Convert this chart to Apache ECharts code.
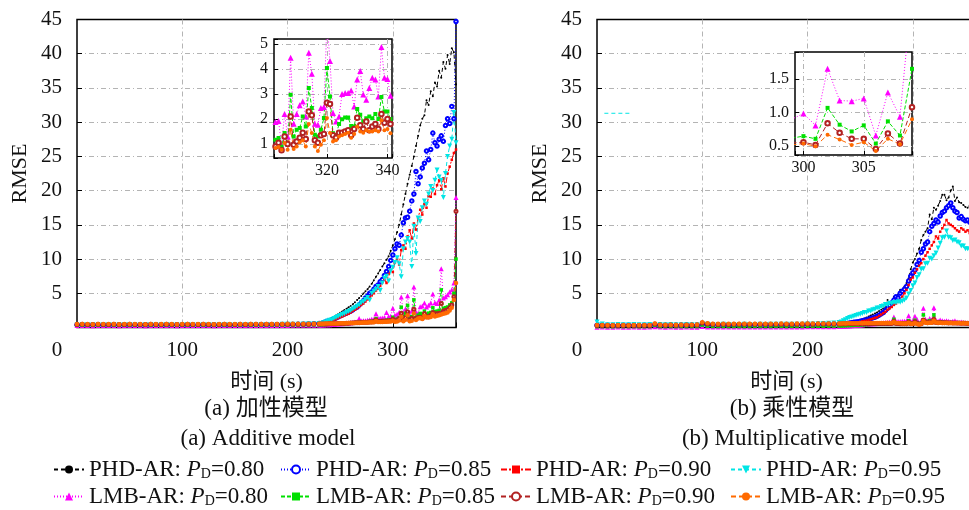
<!DOCTYPE html>
<html><head><meta charset="utf-8">
<script src="https://cdn.jsdelivr.net/npm/echarts@6/dist/echarts.min.js"></script>
<style>html,body{margin:0;padding:0;background:#fff}#c{width:969px;height:510px}</style>
</head><body><div id="c"></div>
<script>
// ---------- time axis (s) ----------
const T = [0,5,10,15,20,25,30,35,40,45,50,55,60,65,70,75,80,85,90,95,100,105,110,115,120,125,130,135,140,145,150,155,160,165,170,175,180,185,190,195,200,205,210,215,220,225,230,
232,234,236,238,240,242,244,246,248,250,252,254,256,258,260,262,264,266,268,270,272,274,276,278,280,282,284,286,288,290,292,294,296,298,300,302,304,306,308,310,312,314,316,318,320,322,324,326,328,330,332,334,336,338,340,342,344,346,348,350,352,354,356,358,360];

// ---------- (a) additive model ----------
const aPHD80 = [0.35,0.36,0.35,0.34,0.36,0.35,0.35,0.36,0.34,0.35, 0.36,0.35,0.35,0.34,0.36,0.35,0.35,0.36,0.35,0.34, 0.35,0.36,0.35,0.35,0.36,0.35,0.34,0.35,0.36,0.35, 0.35,0.36,0.35,0.36,0.37,0.37,0.38,0.38,0.39,0.40, 0.42,0.45,0.48,0.52,0.56,0.60,0.66,
0.7,0.8,0.9,1.05,1.2,1.35,1.55,1.75,1.95,2.15, 2.35,2.55,2.75,2.95,3.15,3.4,3.7,4.0,4.3,4.6, 4.95,5.3,5.6,6.0,6.4,6.9,7.4,7.9,8.4,8.9, 9.4,9.9,10.4,11.2,12.0,12.9,13.9,15.0,16.5,18.0, 19.5,21.0,22.3,23.6,25.0,26.5,28.0,29.5,30.5,31.0, 33.2,32.5,34.5,33.8,35.8,35.2,37.5,36.5,38.8,37.8, 39.8,38.5,40.8,40.2,35.5];
const aPHD85 = [0.38,0.37,0.38,0.39,0.37,0.38,0.38,0.37,0.39,0.38, 0.37,0.38,0.38,0.39,0.37,0.38,0.38,0.37,0.38,0.39, 0.38,0.37,0.38,0.38,0.39,0.37,0.38,0.38,0.37,0.38, 0.38,0.37,0.38,0.39,0.38,0.39,0.40,0.40,0.41,0.42, 0.43,0.45,0.47,0.49,0.52,0.55,0.58,
0.6,0.7,0.8,0.9,1.0,1.1,1.25,1.4,1.55,1.7, 1.85,2.0,2.1,2.25,2.4,2.6,2.8,3.0,3.3,3.6, 3.9,4.3,4.6,5.0,5.2,5.6,6.0,6.2,6.7,7.0, 7.6,8.2,8.9,9.8,10.6,11.5,12.2,12.0,13.5,15.3, 16.0,16.1,17.0,18.5,19.5,22.8,21.0,22.0,23.3,24.0, 25.8,24.5,26.0,28.4,27.0,26.5,27.5,28.0,27.2,29.5, 30.5,29.8,32.3,30.5,44.7];
const aPHD90 = [0.40,0.41,0.40,0.39,0.41,0.40,0.40,0.41,0.39,0.40, 0.41,0.40,0.40,0.39,0.41,0.40,0.40,0.41,0.40,0.39, 0.40,0.41,0.40,0.40,0.41,0.40,0.39,0.40,0.41,0.40, 0.40,0.41,0.40,0.41,0.41,0.42,0.42,0.43,0.43,0.44, 0.45,0.46,0.47,0.48,0.50,0.52,0.54,
0.55,0.6,0.7,0.8,0.9,1.0,1.1,1.2,1.35,1.5, 1.6,1.75,1.9,2.0,2.2,2.4,2.6,2.8,3.0,3.3, 3.5,3.8,4.1,4.4,4.7,5.0,5.4,5.7,6.1,6.6, 7.0,6.5,7.8,8.4,8.1,9.5,10.0,9.2,11.3,12.0, 11.5,13.3,14.2,13.0,15.2,14.3,16.0,17.2,16.5,18.0, 17.5,19.2,19.1,20.3,19.5,20.8,21.5,20.2,21.8,20.6, 22.5,23.5,24.5,25.5,26.0];
const aPHD95 = [0.42,0.43,0.42,0.41,0.43,0.42,0.42,0.43,0.41,0.42, 0.43,0.42,0.42,0.41,0.43,0.42,0.42,0.43,0.42,0.41, 0.42,0.43,0.42,0.42,0.43,0.42,0.41,0.42,0.43,0.42, 0.42,0.43,0.42,0.43,0.43,0.44,0.44,0.45,0.45,0.46, 0.47,0.48,0.49,0.51,0.53,0.55,0.58,
0.6,0.7,0.8,0.95,1.05,1.15,1.3,1.45,1.6,1.75, 1.9,2.0,2.2,2.35,2.5,2.7,2.9,3.1,3.3,3.6, 3.8,4.1,4.4,4.0,5.0,5.3,5.6,6.0,5.4,6.5, 7.2,7.5,6.8,8.3,8.8,9.5,10.2,9.3,7.4,11.5, 12.5,13.0,12.5,8.9,14.8,10.8,16.0,15.5,17.5,18.5, 18.0,19.5,20.6,20.0,21.5,23.0,22.0,21.5,19.0,22.5, 25.0,26.5,27.5,31.4,27.0];
const aLMB80 = [0.28,0.29,0.28,0.27,0.29,0.28,0.28,0.29,0.27,0.28, 0.29,0.28,0.28,0.27,0.29,0.28,0.28,0.29,0.28,0.27, 0.28,0.29,0.28,0.28,0.29,0.28,0.27,0.28,0.29,0.28, 0.28,0.29,0.28,0.29,0.29,0.30,0.30,0.30,0.31,0.31, 0.31,0.32,0.32,0.33,0.33,0.34,0.34,
0.35,0.35,0.4,0.4,0.4,0.45,0.45,0.5,0.5,0.55, 0.55,0.6,0.6,0.65,0.7,0.75,0.8,0.85,1.3,0.95, 1.0,1.0,1.05,1.1,1.2,1.2,2.0,1.3,1.35,1.4, 1.45,2.2,1.6,1.65,2.8,1.8, 1.92,2.2,4.45,2.2,2.7,4.65,1.81,2.44,5.9,2.24, 2.1,3.04,3.14,3.58,2.98,3.24,3.58,4.88,3.6,3.5, 4.0,8.6,4.3,4.5,4.8,5.2,5.5,6.5,19.0];
const aLMB85 = [0.33,0.34,0.33,0.32,0.34,0.33,0.33,0.34,0.32,0.33, 0.34,0.33,0.33,0.32,0.34,0.33,0.33,0.34,0.33,0.32, 0.33,0.34,0.33,0.33,0.34,0.33,0.32,0.33,0.34,0.33, 0.33,0.34,0.33,0.34,0.34,0.35,0.35,0.35,0.36,0.36, 0.36,0.37,0.37,0.38,0.38,0.39,0.39,
0.4,0.43,0.42,0.47,0.46,0.5,0.53,0.52,0.57,0.56, 0.61,0.6,0.66,0.64,0.69,0.7,0.71,0.75,0.74,0.79, 0.8,0.83,0.84,0.89,0.88,0.93,1.3,0.94,0.99,1.01, 1.0,1.06,1.07,1.12,1.5,1.15, 1.24,1.44,2.97,1.57,2.1,3.24,1.37,1.57,4.04,1.43, 1.8,2.06,1.72,2.4,1.9,2.1,2.2,2.88,2.3,2.4, 2.5,5.5,2.8,2.9,3.0,3.3,3.6,5.0,10.0];
const aLMB90 = [0.45,0.46,0.45,0.44,0.46,0.45,0.45,0.46,0.44,0.45, 0.46,0.45,0.45,0.44,0.46,0.45,0.45,0.46,0.45,0.44, 0.45,0.46,0.45,0.45,0.46,0.45,0.44,0.45,0.46,0.45, 0.45,0.46,0.45,0.46,0.46,0.46,0.47,0.47,0.47,0.47, 0.48,0.48,0.48,0.49,0.49,0.5,0.5,
0.5,0.5,0.51,0.52,0.53,0.54,0.55,0.56,0.57,0.58, 0.6,0.6,0.62,0.63,0.65,0.66,0.68,0.7,0.71,0.73, 0.75,0.76,0.78,0.8,0.82,0.83,1.1,0.86,0.88,0.9, 0.92,0.94,0.96,0.98,1.2,0.95, 1.05,1.3,2.1,1.1,1.45,2.3,1.15,1.35,2.65,1.35, 1.45,1.5,1.35,2.05,1.6,1.55,1.8,2.2,2.0,2.0, 2.1,3.5,2.4,2.5,2.6,2.9,3.3,4.5,17.0];
const aLMB95 = [0.5,0.51,0.5,0.49,0.51,0.5,0.5,0.51,0.49,0.5, 0.51,0.5,0.5,0.49,0.51,0.5,0.5,0.51,0.5,0.49, 0.5,0.51,0.5,0.5,0.51,0.5,0.49,0.5,0.51,0.5, 0.5,0.51,0.5,0.51,0.51,0.51,0.52,0.52,0.52,0.52, 0.53,0.53,0.53,0.54,0.54,0.55,0.55,
0.56,0.56,0.57,0.57,0.58,0.58,0.59,0.6,0.6,0.61, 0.62,0.62,0.63,0.64,0.65,0.66,0.67,0.68,0.69,0.7, 0.72,0.73,0.74,0.75,0.76,0.78,0.95,0.8,0.81,0.82, 0.84,0.85,0.86,0.88,1.0,0.85, 0.88,1.04,1.57,0.9,1.15,1.8,0.9,0.97,2.04,1.1, 1.3,1.4,1.25,1.7,1.45,1.5,1.55,1.95,1.6,1.7, 1.8,1.9,2.0,2.1,2.2,2.5,2.9,4.0,6.5];

// ---------- (b) multiplicative model ----------
const bPHD80 = [0.3,0.31,0.3,0.29,0.31,0.3,0.3,0.31,0.29,0.3, 0.31,0.35,0.31,0.3,0.31,0.3,0.3,0.31,0.3,0.3, 0.45,0.38,0.35,0.35,0.36,0.35,0.34,0.35,0.36,0.35, 0.35,0.36,0.35,0.36,0.36,0.37,0.37,0.38,0.38,0.39, 0.4,0.41,0.43,0.45,0.48,0.51,0.55,
0.6,0.65,0.7,0.75,0.8,0.85,0.9,0.95,1.0,1.1, 1.2,1.3,1.45,1.6,1.75,1.9,2.05,2.2,2.4,2.6, 2.8,3.0,4.0,3.5,3.8,4.5,4.3,4.8,5.5,5.2, 6.0,6.5,7.2,8.5, 9.5,10.0,10.8,11.5,12.8, 13.5,14.0,14.5,16.5,15.8,17.5,17.2,17.8,18.5,19.4, 19.4,18.6,19.0,20.0,20.6,18.5,19.0,18.3,18.2,17.9, 17.6,17.5,17.8,17.4,17.6,17.3];
const bPHD85 = [0.32,0.33,0.32,0.31,0.33,0.32,0.32,0.33,0.31,0.32, 0.33,0.36,0.33,0.32,0.33,0.32,0.32,0.33,0.32,0.32, 0.46,0.4,0.37,0.37,0.38,0.37,0.36,0.37,0.38,0.37, 0.37,0.38,0.37,0.38,0.38,0.39,0.39,0.4,0.4,0.41, 0.42,0.43,0.44,0.45,0.46,0.47,0.48,
0.5,0.52,0.55,0.6,0.65,0.7,0.75,0.8,0.85,0.9, 1.0,1.05,1.1,1.2,1.3,1.4,1.5,1.65,1.8,2.0, 2.2,2.5,2.8,3.2,3.6,4.0,4.5,4.3,5.0,5.3, 5.6,6.0,6.8,7.5, 8.0,8.4,9.2,9.8,11.0, 11.5,12.2,12.5,14.0,14.8,15.2,15.7,15.4,16.3,16.8, 17.0,17.5,17.8,18.2,17.5,17.0,16.8,16.0,16.2,15.8, 15.6,15.7,15.4,15.6,15.3,15.5];
const bPHD90 = [0.33,0.34,0.33,0.32,0.34,0.33,0.33,0.34,0.32,0.33, 0.34,0.38,0.34,0.33,0.34,0.33,0.33,0.34,0.33,0.33, 0.48,0.41,0.38,0.38,0.39,0.38,0.37,0.38,0.39,0.38, 0.38,0.39,0.38,0.39,0.39,0.4,0.4,0.41,0.41,0.42, 0.42,0.43,0.43,0.44,0.44,0.45,0.45,
0.45,0.48,0.5,0.52,0.55,0.6,0.65,0.7,0.75,0.8, 0.9,0.95,1.0,1.1,1.2,1.3,1.4,1.5,1.7,1.9, 2.1,2.3,2.6,2.8,3.0,3.3,3.5,3.8,4.0,4.5, 5.0,5.5,6.2,7.0, 7.3,8.0,8.5,9.0,9.4, 10.0,10.5,11.0,11.5,12.0,12.5,13.3,13.0,14.0,14.5, 15.0,15.7,15.2,15.0,14.8,14.5,14.2,14.0,14.5,14.3, 14.0,14.2,13.8,14.0,13.6,13.5];
const bPHD95 = [0.8,0.5,0.42,0.41,0.43,0.42,0.42,0.43,0.41,0.42, 0.43,0.45,0.43,0.42,0.43,0.42,0.42,0.43,0.42,0.42, 0.55,0.48,0.45,0.45,0.46,0.45,0.44,0.45,0.46,0.45, 0.45,0.46,0.45,0.46,0.46,0.47,0.47,0.48,0.48,0.49, 0.5,0.52,0.55,0.58,0.62,0.66,0.72,
0.8,1.0,1.15,1.3,1.45,1.55,1.65,1.75,1.85,1.95, 2.05,2.2,2.2,2.4,2.4,2.6,2.65,2.85,2.85,3.05, 3.15,3.35,3.3,3.55,3.5,3.65,3.6,3.75,3.7,3.85, 4.0,4.3,4.9,5.4, 6.1,6.5,7.3,7.7,8.5, 8.6,9.3,9.4,10.1,10.0,10.5,10.9,11.6,12.3,13.1, 13.2,14.1,13.2,13.1,12.7,12.8,12.5,12.4,11.9,11.9, 11.5,11.5,11.4,11.4,11.1,11.3];
const bLMB80 = [0.05,0.06,0.05,0.04,0.06,0.05,0.05,0.06,0.04,0.05, 0.06,0.1,0.06,0.05,0.06,0.05,0.05,0.06,0.05,0.05, 0.15,0.08,0.06,0.06,0.07,0.06,0.06,0.07,0.07,0.06, 0.07,0.07,0.08,0.07,0.08,0.08,0.08,0.09,0.09,0.09, 0.1,0.1,0.11,0.11,0.12,0.12,0.13,
0.14,0.17,0.18,0.22,0.23,0.27,0.28,0.32,0.33,0.37, 0.38,0.43,0.44,0.49,0.5,0.55,0.56,0.61,0.62,0.67, 0.69,0.73,0.74,0.79,0.8,1.55,0.83,0.87,0.88,0.91, 0.92,0.95,1.7,0.9, 0.98,1.65,1.17,0.66,0.94, 2.8,1.2,1.0,1.3,1.1,2.9,1.0,0.9,1.1,1.0, 0.9,1.0,0.9,0.8,0.9,1.0,0.8,0.7,0.8,0.7, 0.7,0.6,0.7,0.6,0.6,0.6];
const bLMB85 = [0.12,0.13,0.12,0.11,0.13,0.12,0.12,0.13,0.11,0.12, 0.13,0.3,0.14,0.13,0.14,0.13,0.14,0.13,0.14,0.14, 0.35,0.2,0.15,0.14,0.15,0.14,0.15,0.15,0.14,0.15, 0.15,0.16,0.15,0.15,0.16,0.16,0.15,0.16,0.17,0.16, 0.17,0.17,0.18,0.18,0.19,0.2,0.21,
0.22,0.24,0.25,0.27,0.28,0.3,0.31,0.34,0.34,0.37, 0.38,0.41,0.41,0.44,0.45,0.47,0.48,0.51,0.51,0.54, 0.54,0.56,0.57,0.59,0.6,1.2,0.61,0.62,0.62,0.63, 0.63,0.64,1.0,0.64, 0.65,1.07,0.72,0.54,0.66, 1.85,0.9,0.8,1.0,0.8,1.85,0.8,0.7,0.8,0.75, 0.7,0.72,0.68,0.7,0.66,0.68,0.65,0.66,0.63,0.64, 0.62,0.63,0.6,0.61,0.6,0.6];
const bLMB90 = [0.3,0.31,0.3,0.29,0.31,0.3,0.3,0.31,0.29,0.3, 0.31,0.5,0.35,0.34,0.35,0.34,0.36,0.35,0.36,0.37, 0.65,0.52,0.47,0.45,0.46,0.45,0.46,0.47,0.46,0.47, 0.46,0.48,0.47,0.46,0.48,0.48,0.47,0.48,0.49,0.49, 0.5,0.49,0.5,0.5,0.51,0.51,0.52,
0.52,0.53,0.52,0.54,0.53,0.54,0.55,0.54,0.55,0.56, 0.55,0.56,0.57,0.56,0.57,0.58,0.57,0.58,0.59,0.58, 0.59,0.58,0.6,0.59,0.58,0.9,0.58,0.57,0.56,0.56, 0.55,0.56,0.75,0.55, 0.56,0.84,0.61,0.46,0.54, 1.1,0.8,0.7,0.75,0.72,1.2,0.74,0.7,0.72,0.68, 0.68,0.7,0.66,0.68,0.65,0.67,0.64,0.66,0.63,0.64, 0.62,0.63,0.61,0.62,0.6,0.61];
const bLMB95 = [0.36,0.35,0.36,0.34,0.36,0.35,0.34,0.36,0.35,0.37, 0.36,0.6,0.42,0.4,0.41,0.4,0.42,0.41,0.42,0.43, 0.75,0.62,0.56,0.54,0.55,0.53,0.54,0.56,0.54,0.55, 0.54,0.56,0.55,0.54,0.56,0.57,0.55,0.56,0.58,0.57, 0.58,0.57,0.59,0.58,0.6,0.59,0.6,
0.6,0.61,0.6,0.62,0.61,0.62,0.63,0.62,0.63,0.64, 0.63,0.64,0.65,0.64,0.65,0.66,0.65,0.66,0.67,0.66, 0.67,0.66,0.68,0.67,0.66,0.8,0.65,0.64,0.62,0.6, 0.58,0.57,0.7,0.56, 0.54,0.67,0.52,0.43,0.53, 0.95,0.7,0.65,0.68,0.7,1.0,0.72,0.68,0.7,0.66, 0.65,0.68,0.64,0.66,0.63,0.65,0.62,0.64,0.6,0.62, 0.6,0.61,0.59,0.6,0.58,0.6];
// stray cyan dash visible in panel (b)
const bStrayT = [7, 32];
const bStrayV = [31.3, 31.3];

// ---------- inset (a): t = 302..341 ----------
const insA_T = [302,303,304,305,306,307,308,309,310,311,312,313,314,315,316,317,318,319,320,321,322,323,324,325,326,327,328,329,330,331,332,333,334,335,336,337,338,339,340,341];
const insA_LMB80 = [1.8,1.88,1.92,0.95,2.2,1.3,4.45,1.81,2.2,2.55, 2.7,2.1,4.65,3.81,1.81,1.77,2.44,2.48,5.9,4.32, 2.24,1.9,2.1,3.0,3.04,3.04,3.14,2.5,3.58,3.92, 2.98,2.77,3.24,3.65,3.58,2.9,4.88,3.65,3.6,2.93];
const insA_LMB85 = [1.15,1.17,1.24,0.9,1.44,0.97,2.97,1.3,1.57,1.64, 2.1,1.7,3.24,2.44,1.37,1.3,1.57,2.04,4.04,2.9, 1.43,1.35,1.8,1.99,2.06,2.06,1.72,1.7,2.4,2.17, 1.9,2.03,2.1,2.03,2.2,2.0,2.88,2.3,2.3,2.0];
const insA_LMB90 = [0.95,0.9,1.05,0.75,1.3,1.0,2.1,0.97,1.1,1.25, 1.45,1.2,2.3,2.15,1.15,1.05,1.35,1.4,2.65,2.6, 1.35,1.25,1.45,1.45,1.5,1.55,1.35,1.6,2.05,1.75, 1.6,1.9,1.55,1.7,1.8,1.6,2.2,1.85,2.0,1.8];
const insA_LMB95 = [0.85,0.84,0.88,0.77,1.04,0.77,1.57,0.8,0.9,1.07, 1.15,0.9,1.8,1.44,0.9,0.72,0.97,1.15,2.04,1.44, 1.1,1.15,1.3,1.35,1.4,1.45,1.25,1.4,1.7,1.5, 1.45,1.55,1.5,1.5,1.55,1.5,1.95,1.55,1.6,1.43];

// ---------- inset (b): t = 299..309 ----------
const insB_T = [299,300,301,302,303,304,305,306,307,308,309];
const insB_LMB80 = [0.9,0.985,0.81,1.65,1.18,1.17,1.21,0.66,1.3,0.94,2.8];
const insB_LMB85 = [0.62,0.65,0.61,1.07,0.82,0.72,0.81,0.54,0.87,0.66,1.65];
const insB_LMB90 = [0.55,0.56,0.52,0.84,0.7,0.61,0.61,0.46,0.69,0.54,1.08];
const insB_LMB95 = [0.52,0.54,0.5,0.67,0.6,0.52,0.56,0.43,0.61,0.53,0.9];

// ---------- labels ----------
const NAMES = ['PHD-AR: P_D=0.80','PHD-AR: P_D=0.85','PHD-AR: P_D=0.90','PHD-AR: P_D=0.95',
               'LMB-AR: P_D=0.80','LMB-AR: P_D=0.85','LMB-AR: P_D=0.90','LMB-AR: P_D=0.95'];
const X_NAME = '时间 (s)';
const Y_NAME = 'RMSE';
const CAPTIONS = ['(a) 加性模型','(a) Additive model','(b) 乘性模型','(b) Multiplicative model'];

// ---------- styles ----------
const F = '"Liberation Serif", "Noto Sans CJK SC", serif';
const STY = [
  {c:'#000000', dash:[4,3], sym:'circle', size:2, isize:2, rot:0},
  {c:'#0000ff', dash:[1,2], sym:'emptyCircle', size:3.5, isize:4, rot:0},
  {c:'#ff0000', dash:[6,2,2,2], sym:'rect', size:2.5, isize:3, rot:0},
  {c:'#00e5e5', dash:[4,3], sym:'triangle', size:5, isize:5, rot:180},
  {c:'#ff00ff', dash:[1,2], sym:'triangle', size:5, isize:6, rot:0},
  {c:'#00e000', dash:[4,2], sym:'rect', size:3.5, isize:4, rot:0},
  {c:'#b22222', dash:[5,3], sym:'emptyCircle', size:3, isize:4.5, rot:0},
  {c:'#ff6a00', dash:[5,3], sym:'circle', size:4.5, isize:4, rot:0}
];
const GRID_LINE = {color:'#b4b4b4', width:1, type:[5,3,1,3]};

function mk(i, xs, ys, ax, z, inset) {
  const s = STY[i];
  return {type:'line', name:NAMES[i], xAxisIndex:ax, yAxisIndex:ax, z:z,
    data: xs.map((x,k)=>[x, ys[k]]),
    symbol:s.sym, symbolSize: inset ? s.isize : s.size, symbolRotate:s.rot, showAllSymbol:true,
    lineStyle:{color:s.c, width:1, type:s.dash}, itemStyle:{color:s.c},
    emphasis:{disabled:true}, clip:true, animation:false};
}

const seriesA = [aPHD80,aPHD85,aPHD90,aPHD95,aLMB80,aLMB85,aLMB90,aLMB95];
const seriesB = [bPHD80,bPHD85,bPHD90,bPHD95,bLMB80,bLMB85,bLMB90,bLMB95];
const insA = [insA_LMB80,insA_LMB85,insA_LMB90,insA_LMB95];
const insB = [insB_LMB80,insB_LMB85,insB_LMB90,insB_LMB95];

const series = [];
seriesA.forEach((d,i)=>series.push(mk(i, T, d, 0, 2, false)));
seriesB.forEach((d,i)=>series.push(mk(i, T, d, 1, 2, false)));
series.push({type:'line', name:'stray', xAxisIndex:1, yAxisIndex:1, z:2, symbol:'none',
  data: bStrayT.map((x,k)=>[x,bStrayV[k]]), lineStyle:{color:'#00e5e5', width:1, type:[4,3]}, animation:false});
insA.forEach((d,i)=>series.push(mk(i+4, insA_T, d, 2, 12, true)));
insB.forEach((d,i)=>series.push(mk(i+4, insB_T, d, 3, 12, true)));

function mainX(gi) {
  return {type:'value', gridIndex:gi, min:0, max:360, interval:100,
    axisLine:{show:false}, axisTick:{show:true, inside:true, length:5, lineStyle:{color:'#000'}},
    axisLabel:{margin:12, color:'#111', fontFamily:F, fontSize:21,
      formatter: v => v === 0 ? '{z|0}' : (v >= 360 ? '' : String(v)),
      rich:{z:{padding:[0,40,0,0], fontFamily:F, fontSize:21, color:'#111'}}},
    splitLine:{show:true, showMinLine:false, showMaxLine:false, lineStyle:GRID_LINE},
    name:X_NAME, nameLocation:'middle', nameGap:44, nameTextStyle:{fontFamily:F, fontSize:22, color:'#111'}};
}
function mainY(gi) {
  return {type:'value', gridIndex:gi, min:0, max:45, interval:5,
    axisLine:{show:false}, axisTick:{show:true, inside:true, length:5, lineStyle:{color:'#000'}},
    axisLabel:{margin:15, color:'#111', fontFamily:F, fontSize:21, formatter: v => v === 0 ? '' : String(v)},
    splitLine:{show:true, showMinLine:false, showMaxLine:false, lineStyle:GRID_LINE},
    name:Y_NAME, nameLocation:'middle', nameGap:46, nameRotate:90, nameTextStyle:{fontFamily:F, fontSize:22, color:'#111'}};
}
function insetAxis(gi, min, max, split, fmt, margin) {
  return {type:'value', gridIndex:gi, min:min, max:max, splitNumber:split, z:11,
    axisLine:{show:false}, axisTick:{show:true, inside:true, length:4, lineStyle:{color:'#000'}},
    axisLabel:{margin:margin, color:'#111', fontFamily:F, fontSize:16, formatter:fmt, showMinLabel:true, showMaxLabel:true},
    splitLine:{show:true, showMinLine:false, showMaxLine:false, lineStyle:GRID_LINE}};
}
const isMul = (v, m) => Math.abs(v/m - Math.round(v/m)) < 1e-6;

const legendFmt = name => { const p = name.split('P_D'); return '{n|' + p[0] + '}{i|P}{s|D}{n|' + p[1] + '}'; };
const LEG_X = [53, 280, 500, 730];
const LEG_Y = [458, 485];
const legends = NAMES.map((n,i)=>({
  data:[n], left:LEG_X[i%4], top:LEG_Y[Math.floor(i/4)], padding:0, itemWidth:30, itemHeight:10, itemGap:0,
  selectedMode:false, formatter:legendFmt,
  textStyle:{color:'#111', fontFamily:F, fontSize:23,
    rich:{n:{fontFamily:F, fontSize:23, color:'#111'},
          i:{fontFamily:F, fontSize:23, fontStyle:'italic', color:'#111'},
          s:{fontFamily:F, fontSize:14, color:'#111', padding:[10,0,0,0]}}}
}));

function cap(text, x, y) {
  return {type:'text', x:x, y:y, z:20,
    style:{text:text, font:'23px ' + F, fill:'#111', align:'center', verticalAlign:'middle', textAlign:'center', textVerticalAlign:'middle'}};
}

const option = {
  animation:false,
  backgroundColor:'#fff',
  textStyle:{fontFamily:F},
  grid:[
    {left:77, top:19.5, width:379, height:308, show:true, borderColor:'#000', borderWidth:1.5, backgroundColor:'transparent', outerBoundsMode:'none', containLabel:false},
    {left:597, top:19.5, width:379, height:308, show:true, borderColor:'#000', borderWidth:1.5, backgroundColor:'transparent', outerBoundsMode:'none', containLabel:false},
    {left:274, top:39, width:118, height:119, show:true, backgroundColor:'#fff', borderColor:'#000', borderWidth:1.5, z:10, outerBoundsMode:'none', containLabel:false},
    {left:795, top:52, width:117, height:103, show:true, backgroundColor:'#fff', borderColor:'#000', borderWidth:1.5, z:10, outerBoundsMode:'none', containLabel:false}
  ],
  xAxis:[
    mainX(0), mainX(1),
    insetAxis(2, 302.5, 341.5, 2, v => isMul(v,20) ? String(Math.round(v)) : '', 5),
    insetAxis(3, 299.3, 309, 2, v => isMul(v,5) ? String(Math.round(v)) : '', 5)
  ],
  yAxis:[
    mainY(0), mainY(1),
    insetAxis(2, 0.44, 5.2, 5, v => isMul(v,1) ? String(Math.round(v)) : '', 6),
    insetAxis(3, 0.37, 1.9, 3, v => isMul(v,0.5) ? v.toFixed(1) : '', 6)
  ],
  legend:legends,
  graphic:[cap(CAPTIONS[0], 266, 409), cap(CAPTIONS[1], 268, 439), cap(CAPTIONS[2], 792, 409), cap(CAPTIONS[3], 795, 439)],
  series:series
};
const chart = echarts.init(document.getElementById('c'), null, {renderer:'canvas'});
chart.setOption(option);
</script></body></html>
